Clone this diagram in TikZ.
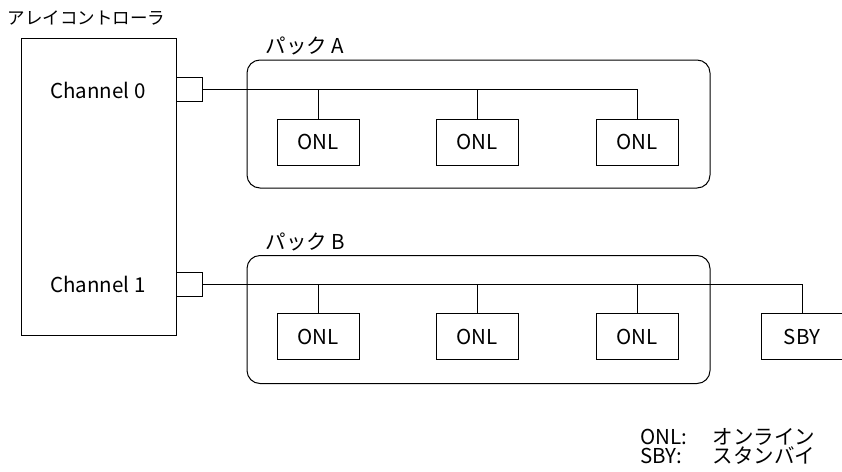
\documentclass[tikz,border=0pt]{standalone}
\usepackage{fontspec}
\setmainfont{Noto Sans CJK JP}
\begin{document}
\begin{tikzpicture}[x=1pt,y=-1pt,
  line width=1pt,
  box/.style={draw,minimum width=82pt,minimum height=46pt,inner sep=0pt,font=\fontsize{20.5}{22}\selectfont},
  pack/.style={draw,rounded corners=13pt,minimum width=463pt,minimum height=128pt,inner sep=0pt},
  port/.style={draw,minimum width=26pt,minimum height=24pt,inner sep=0pt},
  lbl/.style={inner sep=0pt,font=\fontsize{20.5}{22}\selectfont},
  jlbl/.style={inner sep=0pt,font=\fontsize{17.5}{20}\selectfont}]
\useasboundingbox (0,0) rectangle (842,471);
\node[draw,minimum width=155pt,minimum height=297pt,inner sep=0pt] (ctrl) at (98.5,186.5) {};
\node[jlbl,anchor=west] (title) at (7,18) {アレイコントローラ};
\node[lbl] (ch0) at (98,90) {Channel 0};
\node[lbl] (ch1) at (98,284) {Channel 1};
\node[port] (p0) at (189,89) {};
\node[port] (p1) at (189,284) {};
\node[pack] (packA) at (478.5,124) {};
\node[pack] (packB) at (478.5,319.5) {};
\node[lbl,anchor=west] (la) at (265,46) {パック A};
\node[lbl,anchor=west] (lb) at (265,242) {パック B};
\node[box] (a1) at (318,142) {ONL};
\node[box] (a2) at (477,142) {ONL};
\node[box] (a3) at (637,142) {ONL};
\node[box] (b1) at (318,336.5) {ONL};
\node[box] (b2) at (477,336.5) {ONL};
\node[box] (b3) at (637,336.5) {ONL};
\node[box] (s1) at (802,336.5) {SBY};
\draw (p0.east) -- (p0.east -| a3.north) -- (a3.north);
\draw (p0.east -| a1.north) -- (a1.north);
\draw (p0.east -| a2.north) -- (a2.north);
\draw (p1.east) -- (p1.east -| s1.north) -- (s1.north);
\draw (p1.east -| b1.north) -- (b1.north);
\draw (p1.east -| b2.north) -- (b2.north);
\draw (p1.east -| b3.north) -- (b3.north);
\node[lbl,anchor=west] (k1) at (640,437) {ONL:};
\node[lbl,anchor=west] (k1t) at (712,437) {オンライン};
\node[lbl,anchor=west] (k2) at (640,456) {SBY:};
\node[lbl,anchor=west] (k2t) at (712,456) {スタンバイ};
\end{tikzpicture}
\end{document}
